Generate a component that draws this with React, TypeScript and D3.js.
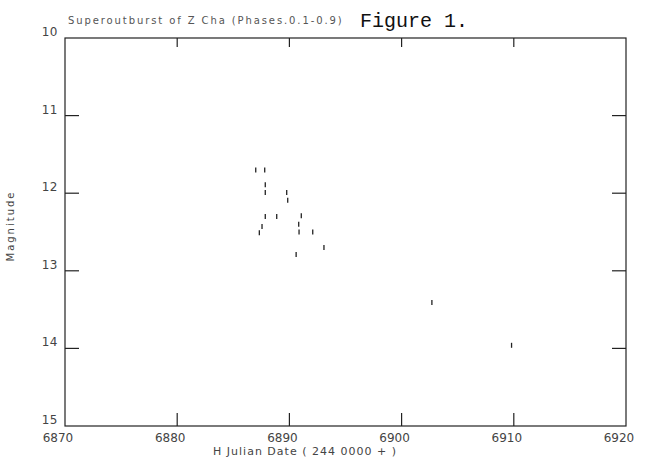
import React from "react";
import * as d3 from "d3";

const julianDates = [
  6887.0, 6887.8, 6887.85, 6887.85, 6889.76, 6889.85, 6887.85, 6888.87,
  6891.06, 6887.56, 6890.83, 6887.32, 6890.86, 6892.08, 6893.08, 6890.6,
  6902.7, 6909.8,
];
const magnitudes = [
  11.7, 11.7, 11.89, 11.99, 11.99, 12.09, 12.3, 12.3,
  12.29, 12.43, 12.4, 12.51, 12.5, 12.5, 12.7, 12.79,
  13.41, 13.96,
];
const xTicks = [6870, 6880, 6890, 6900, 6910, 6920];
const yTicks = [10, 11, 12, 13, 14, 15];

const title = "Superoutburst of Z Cha (Phases.0.1-0.9)";
const figLabel = "Figure 1.";
const xTitle = "H Julian Date ( 244 0000 + )";
const yTitle = "Magnitude";

export default function App() {
  const W = 646, H = 460;
  const left = 65, right = 626, top = 38, bottom = 426;
  const x = d3.scaleLinear().domain([6870, 6920]).range([left, right]);
  const y = d3.scaleLinear().domain([10, 15]).range([top, bottom]);
  const font = "'DejaVu Sans', sans-serif";
  const ink = "#222";
  return (
    <svg width={W} height={H} style={{ position: "absolute", left: 0, top: 0, background: "#fff" }}>
      <rect x={0} y={0} width={W} height={H} fill="#fff" />
      <text x={68} y={24} fontFamily={font} fontSize={10} letterSpacing={1.9} fill="#555">{title}</text>
      <text x={360} y={27} fontFamily="'Liberation Mono', monospace" fontSize={20} fill="#111">{figLabel}</text>
      <rect x={left} y={top} width={right - left} height={bottom - top} fill="none" stroke={ink} strokeWidth={1.2} />
      {yTicks.map((t) => (
        <g key={"y" + t}>
          {t > 10 && t < 15 && (
            <>
              <line x1={left} x2={left + 14} y1={y(t)} y2={y(t)} stroke={ink} strokeWidth={1.2} />
              <line x1={right} x2={right - 14} y1={y(t)} y2={y(t)} stroke={ink} strokeWidth={1.2} />
            </>
          )}
          <text x={58} y={y(t) - 2} textAnchor="end" fontFamily={font} fontSize={12} fill="#444" letterSpacing={0.5}>{t}</text>
        </g>
      ))}
      {xTicks.map((t) => (
        <g key={"x" + t}>
          {t > 6870 && t < 6920 && (
            <>
              <line x1={x(t)} x2={x(t)} y1={bottom} y2={bottom - 13} stroke={ink} strokeWidth={1.2} />
              <line x1={x(t)} x2={x(t)} y1={top} y2={top + 9} stroke={ink} strokeWidth={1.2} />
            </>
          )}
          <text x={x(t) - 7} y={442} textAnchor="middle" fontFamily={font} fontSize={12} fill="#444">{t}</text>
        </g>
      ))}
      <text x={305} y={455} textAnchor="middle" fontFamily={font} fontSize={11} letterSpacing={1} fill="#444">{xTitle}</text>
      <text transform={`translate(14, 226) rotate(-90)`} textAnchor="middle" fontFamily={font} fontSize={10} letterSpacing={2} fill="#444">{yTitle}</text>
      {julianDates.map((d, i) => (
        <line key={"p" + i} x1={x(d)} x2={x(d)} y1={y(magnitudes[i]) - 2.5} y2={y(magnitudes[i]) + 2.5} stroke="#222" strokeWidth={1.3} />
      ))}
    </svg>
  );
}
